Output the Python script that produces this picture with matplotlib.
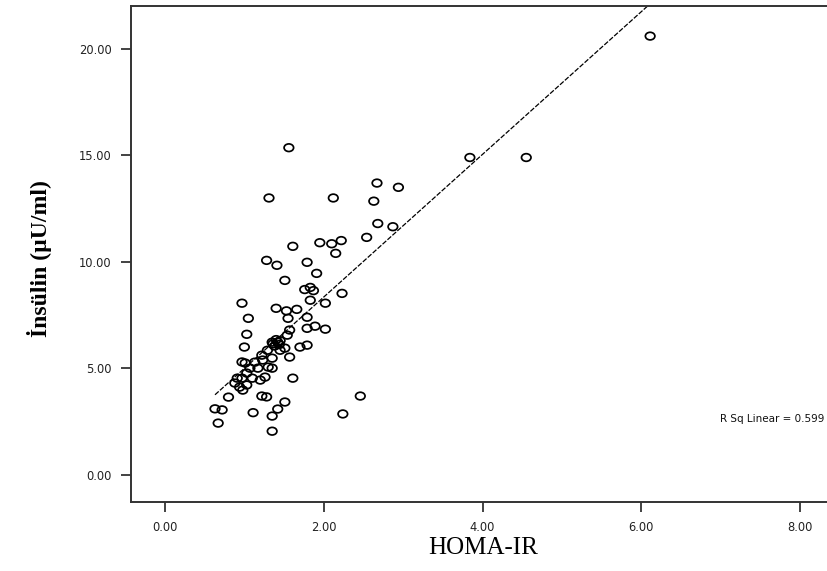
import matplotlib
matplotlib.use("Agg")
import matplotlib.pyplot as plt
from matplotlib.markers import MarkerStyle
from matplotlib.transforms import Affine2D

# values (HOMA-IR vs insulin)
homa = [1.56, 1.31, 2.12, 2.67, 2.94, 2.63, 2.68, 2.87, 2.54, 1.95, 2.10, 2.22,
        2.15, 1.61, 1.28, 1.41, 1.79, 1.91, 1.51, 2.23, 1.76, 1.83, 1.87, 1.83,
        2.02, 0.97, 1.40, 1.53, 1.66, 1.55, 1.79, 1.05, 1.79, 1.89, 2.02, 1.57,
        1.54, 1.03, 1.00, 1.42, 1.36, 1.45, 1.38, 1.35, 1.70, 1.79, 1.57, 0.97,
        1.61, 2.46, 1.51, 1.42, 1.35, 2.24, 1.35, 0.80, 0.63, 0.72, 0.67, 1.22,
        1.28, 1.11, 1.29, 1.22, 1.13, 1.01, 1.07, 1.03, 0.97, 0.91, 0.88, 0.94,
        1.03, 0.98, 1.10, 1.17, 1.30, 1.35, 1.23, 1.35, 1.45, 1.51, 1.26, 1.20,
        1.40, 1.44, 3.84, 4.55, 6.11]
insulin = [15.36, 13.00, 13.00, 13.70, 13.50, 12.85, 11.80, 11.65, 11.15, 10.90, 10.85, 11.00,
           10.40, 10.73, 10.07, 9.84, 9.98, 9.46, 9.13, 8.52, 8.70, 8.80, 8.65, 8.20,
           8.06, 8.06, 7.82, 7.70, 7.77, 7.35, 7.40, 7.35, 6.88, 6.98, 6.84, 6.80,
           6.56, 6.60, 6.00, 6.23, 6.15, 6.30, 6.05, 6.23, 6.00, 6.09, 5.53, 5.30,
           4.54, 3.70, 3.42, 3.09, 2.76, 2.86, 2.05, 3.65, 3.10, 3.05, 2.43, 3.70,
           3.66, 2.92, 5.85, 5.62, 5.29, 5.25, 5.01, 4.78, 4.54, 4.54, 4.31, 4.12,
           4.22, 3.98, 4.54, 5.01, 5.06, 5.01, 5.39, 5.48, 5.85, 5.95, 4.59, 4.45,
           6.35, 6.12, 14.90, 14.90, 20.60]

# fitted line as drawn in the picture
fit_slope = 3.35
fit_intercept = 1.65
r_sq = 0.599

xticks = [0, 2, 4, 6, 8]
yticks = [0, 5, 10, 15, 20]

fig = plt.figure(figsize=(8.28, 5.71), dpi=100)
ax = fig.add_axes([0.158, 0.121, 0.842, 0.868])

oval = MarkerStyle('o', transform=Affine2D().scale(1.25, 1.0))
ax.scatter(homa, insulin, marker=oval, s=30, facecolors='none',
           edgecolors='black', linewidths=1.25, zorder=3)

x0, x1 = min(homa), max(homa)
ax.plot([x0, x1], [fit_intercept + fit_slope * x0, fit_intercept + fit_slope * x1],
        color='black', lw=0.9, linestyle=(0, (4, 1.3)), zorder=2)

ax.set_xlim(-0.43, 8.35)
ax.set_ylim(-1.27, 22.0)
ax.set_xticks(xticks)
ax.set_yticks(yticks)
ax.set_xticklabels([f"{v:.2f}" for v in xticks])
ax.set_yticklabels([f"{v:.2f}" for v in yticks])
ax.tick_params(direction='out', length=7, width=1.2, labelsize=8.3,
               colors='#222222', pad=7)

for side in ['left', 'top', 'bottom']:
    ax.spines[side].set_linewidth(1.4)
    ax.spines[side].set_color('#333333')
ax.spines['right'].set_visible(False)

ax.set_xlabel("HOMA-IR", family='Liberation Serif', fontsize=18)
ax.xaxis.label.set_va('center')
ax.xaxis.set_label_coords(0.505, -0.093)
ax.set_ylabel("İnsülin (µU/ml)", family='Liberation Serif', fontsize=17,
              fontweight='bold')
ax.yaxis.label.set_va('center')
ax.yaxis.set_label_coords(-0.131, 0.49)

ax.text(8.30, 2.6, f"R Sq Linear = {r_sq:.3f}", fontsize=7.5, ha='right',
        va='center', color='#111111')

fig.savefig("out.png", dpi=100)
